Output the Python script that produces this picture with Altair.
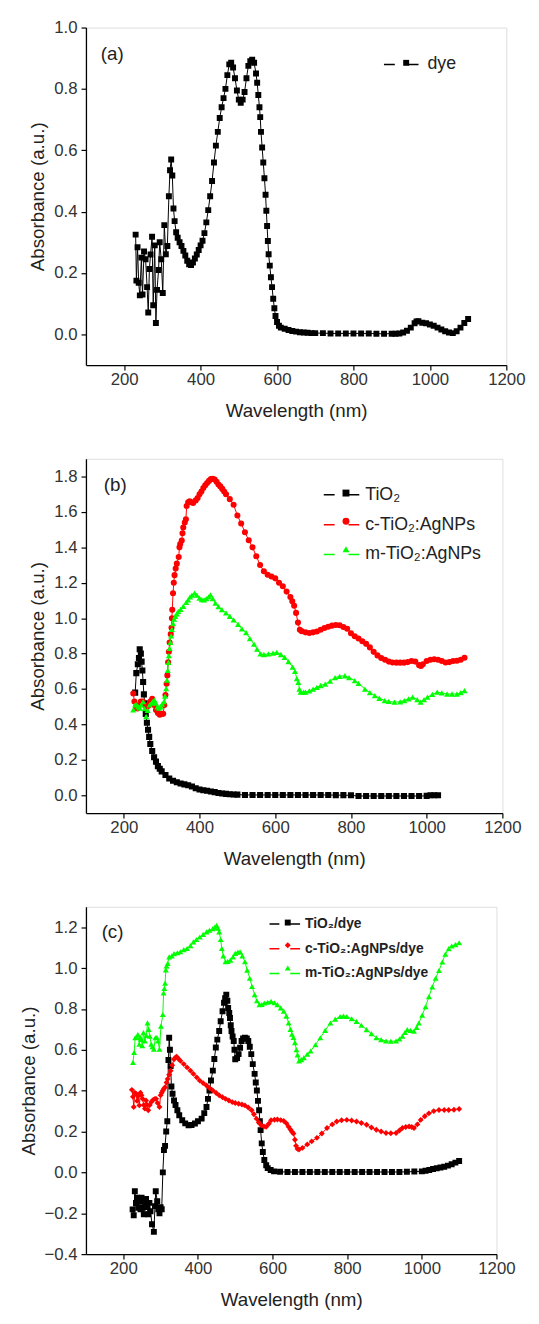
import altair as alt
import pandas as pd

F = "Liberation Sans"

# ---------------- panel (a): dye ----------------
a_wl = [230, 232, 235, 238, 241, 245, 248, 252, 256, 260, 263, 266, 269, 273, 276, 280, 283, 286, 290, 293,
        297, 301, 305, 309, 313, 317, 320, 323, 326, 329, 332, 336, 340, 345, 350, 355, 360, 365, 370, 375,
        380, 385, 390, 395, 400, 405, 410, 415, 420, 425, 430, 435, 440, 445, 450, 455, 460, 465, 470, 475,
        480, 485, 490, 495, 500, 505, 510, 515, 520, 525, 530, 535, 540, 545, 548, 551, 554, 556, 558, 561,
        564, 567, 570, 572, 574, 576, 578, 581, 584, 587, 590, 593, 596, 600, 605, 610, 620, 630, 640, 650,
        660, 670, 680, 690, 700, 720, 740, 760, 780, 800, 820, 840, 860, 880, 900, 910, 920, 930, 940, 950,
        960, 965, 970, 980, 990, 1000, 1010, 1020, 1030, 1040, 1050, 1060, 1070, 1080, 1090, 1100]
a_dye = [0.325, 0.175, 0.284, 0.168, 0.127, 0.25, 0.13, 0.27, 0.245, 0.154, 0.071, 0.213, 0.26, 0.318, 0.095, 0.29, 0.037, 0.145, 0.21, 0.30,
         0.245, 0.135, 0.356, 0.261, 0.288, 0.45, 0.535, 0.57, 0.518, 0.41, 0.369, 0.333, 0.315, 0.30, 0.288, 0.272, 0.257, 0.24, 0.228, 0.226,
         0.234, 0.247, 0.26, 0.275, 0.29, 0.305, 0.33, 0.365, 0.405, 0.45, 0.50, 0.56, 0.615, 0.66, 0.705, 0.74, 0.77, 0.80, 0.845, 0.88,
         0.885, 0.87, 0.835, 0.795, 0.765, 0.755, 0.765, 0.79, 0.835, 0.875, 0.89, 0.895, 0.885, 0.85, 0.82, 0.78, 0.74, 0.708, 0.66, 0.609,
         0.56, 0.509, 0.455, 0.403, 0.353, 0.304, 0.261, 0.224, 0.186, 0.154, 0.116, 0.085, 0.06, 0.04, 0.028, 0.022, 0.018, 0.014, 0.011, 0.009,
         0.007, 0.006, 0.005, 0.004, 0.004, 0.004, 0.003, 0.003, 0.003, 0.003, 0.003, 0.003, 0.002, 0.002, 0.002, 0.002, 0.003, 0.006, 0.012, 0.022,
         0.036, 0.042, 0.043, 0.038, 0.036, 0.032, 0.028, 0.022, 0.016, 0.010, 0.006, 0.004, 0.010, 0.022, 0.037, 0.050]

# ---------------- panel (b) ----------------
b_tio2_wl = [230, 233, 237, 240, 242, 245, 247, 249, 251, 253, 255, 258, 261, 264, 267, 270, 275, 280, 285, 290,
             295, 300, 310, 320, 330, 340, 350, 360, 370, 380, 390, 400, 410, 420, 430, 440, 450, 460, 470, 480,
             490, 500, 520, 540, 560, 580, 600, 620, 640, 660, 680, 700, 720, 740, 760, 780, 800, 820, 840, 860,
             880, 900, 920, 940, 960, 980, 1000, 1010, 1020, 1030]
b_tio2 = [0.58, 0.69, 0.74, 0.775, 0.825, 0.80, 0.755, 0.705, 0.64, 0.57, 0.52, 0.46, 0.41, 0.37, 0.33, 0.29, 0.25, 0.215, 0.19, 0.165,
          0.15, 0.135, 0.115, 0.095, 0.082, 0.074, 0.067, 0.062, 0.057, 0.05, 0.04, 0.033, 0.029, 0.026, 0.022, 0.018, 0.013, 0.010, 0.008, 0.006,
          0.005, 0.004, 0.002, 0.002, 0.002, 0.002, 0.002, 0.002, 0.002, 0.002, 0.002, 0.002, 0.002, 0.002, 0.001, 0.001, 0.0, -0.004, -0.004, -0.004,
          -0.004, -0.004, -0.004, -0.004, -0.004, -0.004, -0.003, 0.0, 0.0, 0.0]

b_c_wl = [225, 228, 232, 236, 240, 245, 250, 255, 260, 265, 270, 275, 280, 285, 290, 295, 300, 304, 307, 310,
          313, 315, 317, 319, 321, 324, 326, 327, 328, 330, 332, 334, 337, 340, 345, 347, 349, 353, 355, 357,
          361, 364, 366, 370, 374, 378, 383, 390, 395, 400, 405, 410, 415, 420, 425, 430, 435, 440, 445, 450,
          455, 460, 465, 470, 480, 490, 500, 510, 520, 530, 540, 550, 560, 570, 580, 590, 600, 610, 620, 630,
          640, 645, 650, 655, 660, 665, 670, 680, 690, 700, 710, 720, 730, 740, 750, 760, 770, 780, 790, 800,
          810, 820, 830, 840, 850, 860, 870, 880, 890, 900, 910, 920, 930, 940, 950, 960, 970, 980, 985, 990,
          1000, 1010, 1020, 1030, 1040, 1050, 1060, 1070, 1080, 1090, 1100]
b_c = [0.575, 0.53, 0.50, 0.49, 0.51, 0.53, 0.53, 0.51, 0.50, 0.505, 0.53, 0.545, 0.51, 0.482, 0.465, 0.455, 0.46, 0.46, 0.51, 0.566,
       0.63, 0.677, 0.751, 0.81, 0.863, 0.91, 0.946, 1.0, 1.048, 1.141, 1.2, 1.243, 1.28, 1.308, 1.345, 1.40, 1.419, 1.438, 1.48, 1.512,
       1.54, 1.558, 1.633, 1.655, 1.66, 1.655, 1.651, 1.665, 1.679, 1.70, 1.715, 1.735, 1.75, 1.763, 1.775, 1.785, 1.787, 1.783, 1.77, 1.755,
       1.744, 1.73, 1.715, 1.70, 1.672, 1.64, 1.58, 1.535, 1.485, 1.44, 1.40, 1.35, 1.30, 1.265, 1.245, 1.235, 1.225, 1.20, 1.18, 1.15,
       1.12, 1.095, 1.07, 1.03, 0.975, 0.935, 0.926, 0.92, 0.916, 0.92, 0.925, 0.935, 0.945, 0.952, 0.958, 0.962, 0.96, 0.95, 0.94, 0.915,
       0.898, 0.885, 0.87, 0.855, 0.835, 0.81, 0.79, 0.775, 0.765, 0.755, 0.75, 0.749, 0.749, 0.749, 0.752, 0.758, 0.755, 0.735, 0.73, 0.74,
       0.758, 0.765, 0.768, 0.765, 0.758, 0.75, 0.752, 0.758, 0.76, 0.765, 0.777]

b_m_wl = [225, 230, 234, 238, 242, 246, 251, 255, 259, 263, 268, 273, 277, 281, 285, 289, 293, 297, 301, 306,
          309, 312, 314, 316, 318, 319, 321, 323, 325, 327, 330, 333, 336, 340, 344, 350, 357, 365, 370, 375,
          380, 387, 393, 400, 406, 412, 418, 424, 429, 435, 442, 450, 459, 470, 480, 490, 502, 512, 523, 533,
          544, 552, 561, 570, 582, 594, 604, 615, 625, 635, 646, 652, 657, 661, 664, 667, 675, 680, 690, 700,
          710, 720, 732, 745, 758, 770, 784, 795, 810, 820, 837, 850, 863, 875, 889, 900, 915, 930, 941, 952,
          963, 975, 984, 993, 1002, 1015, 1028, 1040, 1054, 1067, 1080, 1090, 1100]
b_m = [0.482, 0.51, 0.51, 0.50, 0.492, 0.51, 0.529, 0.49, 0.445, 0.48, 0.51, 0.52, 0.53, 0.538, 0.52, 0.50, 0.492, 0.50, 0.515, 0.529,
       0.56, 0.603, 0.65, 0.705, 0.75, 0.789, 0.83, 0.863, 0.90, 0.937, 0.97, 0.995, 1.011, 1.025, 1.039, 1.05, 1.067, 1.09, 1.104, 1.12,
       1.13, 1.141, 1.13, 1.113, 1.105, 1.104, 1.11, 1.12, 1.132, 1.11, 1.085, 1.065, 1.048, 1.03, 1.011, 0.99, 0.965, 0.94, 0.918, 0.885,
       0.853, 0.825, 0.798, 0.795, 0.798, 0.803, 0.807, 0.795, 0.779, 0.755, 0.724, 0.70, 0.659, 0.638, 0.60, 0.582, 0.582, 0.582, 0.59, 0.60,
       0.61, 0.62, 0.628, 0.645, 0.665, 0.672, 0.675, 0.665, 0.647, 0.632, 0.60, 0.58, 0.563, 0.548, 0.535, 0.53, 0.526, 0.528, 0.535, 0.545,
       0.554, 0.54, 0.526, 0.54, 0.554, 0.57, 0.582, 0.578, 0.572, 0.572, 0.572, 0.58, 0.591]

# ---------------- panel (c) ----------------
c_t_wl = [225, 228, 231, 234, 237, 240, 243, 246, 249, 252, 255, 258, 261, 264, 267, 270, 273, 277, 282, 285,
          287, 291, 294, 297, 300, 303, 306, 309, 312, 315, 318, 321, 323, 325, 327, 329, 332, 336, 340, 345,
          350, 358, 366, 375, 383, 392, 400, 410, 417, 423, 427, 431, 435, 440, 444, 448, 452, 457, 461, 466,
          470, 473, 476, 479, 481, 484, 486, 488, 490, 493, 496, 498, 500, 505, 509, 513, 517, 521, 526, 531,
          535, 539, 543, 547, 552, 555, 558, 561, 564, 566, 568, 571, 574, 578, 583, 587, 595, 604, 620, 640,
          660, 680, 700, 720, 740, 760, 780, 800, 820, 840, 860, 880, 900, 920, 940, 960, 980, 1000, 1010, 1020,
          1030, 1040, 1050, 1060, 1070, 1080, 1090, 1100]
c_t = [-0.181, -0.21, -0.092, -0.15, -0.124, -0.173, -0.141, -0.181, -0.124, -0.173, -0.205, -0.149, -0.13, -0.17, -0.205, -0.149, -0.19, -0.254, -0.291, -0.165,
       -0.092, -0.141, -0.181, -0.20, -0.17, -0.18, 0.0, 0.11, 0.13, 0.20, 0.25, 0.55, 0.659, 0.60, 0.52, 0.42, 0.385, 0.352, 0.33, 0.304,
       0.28, 0.255, 0.24, 0.231, 0.232, 0.239, 0.25, 0.263, 0.29, 0.32, 0.36, 0.401, 0.45, 0.498, 0.555, 0.611, 0.65, 0.692, 0.74, 0.789,
       0.83, 0.853, 0.87, 0.84, 0.805, 0.78, 0.756, 0.72, 0.692, 0.665, 0.643, 0.60, 0.554, 0.56, 0.579, 0.61, 0.643, 0.655, 0.659, 0.655,
       0.643, 0.615, 0.579, 0.53, 0.482, 0.44, 0.401, 0.35, 0.304, 0.25, 0.207, 0.142, 0.10, 0.061, 0.035, 0.021, 0.012, 0.005, 0.003, 0.002,
       0.002, 0.002, 0.002, 0.002, 0.002, 0.002, 0.002, 0.002, 0.002, 0.002, 0.002, 0.002, 0.002, 0.002, 0.002, 0.003, 0.004, 0.005, 0.008, 0.012,
       0.017, 0.02, 0.024, 0.028, 0.033, 0.04, 0.048, 0.056]

c_c_wl = [223, 226, 228, 231, 234, 237, 240, 243, 246, 249, 252, 255, 258, 261, 264, 267, 271, 275, 280, 285,
          288, 292, 297, 300, 303, 306, 309, 312, 316, 319, 323, 327, 331, 336, 340, 343, 348, 353, 362, 371,
          380, 388, 397, 405, 414, 423, 431, 440, 449, 457, 466, 474, 483, 492, 500, 509, 518, 526, 535, 544,
          550, 557, 563, 570, 577, 583, 590, 596, 605, 613, 622, 630, 637, 643, 648, 652, 656, 660, 663, 667,
          671, 680, 693, 705, 719, 732, 746, 760, 772, 785, 799, 812, 825, 838, 852, 865, 878, 891, 904, 917,
          931, 940, 948, 957, 966, 973, 979, 988, 997, 1008, 1019, 1032, 1046, 1060, 1072, 1086, 1100]
c_c = [0.404, 0.37, 0.32, 0.39, 0.385, 0.35, 0.375, 0.328, 0.39, 0.377, 0.36, 0.33, 0.312, 0.352, 0.33, 0.304, 0.33, 0.344, 0.355, 0.36,
       0.36, 0.34, 0.32, 0.377, 0.39, 0.401, 0.41, 0.417, 0.44, 0.457, 0.478, 0.498, 0.525, 0.554, 0.562, 0.566, 0.556, 0.546, 0.53, 0.514,
       0.498, 0.482, 0.465, 0.449, 0.437, 0.425, 0.413, 0.401, 0.389, 0.377, 0.368, 0.36, 0.352, 0.344, 0.34, 0.336, 0.332, 0.328, 0.318, 0.304,
       0.285, 0.263, 0.245, 0.231, 0.225, 0.223, 0.238, 0.255, 0.258, 0.259, 0.256, 0.252, 0.24, 0.223, 0.21, 0.199, 0.19, 0.16, 0.13, 0.115,
       0.112, 0.12, 0.137, 0.152, 0.169, 0.19, 0.217, 0.235, 0.249, 0.255, 0.257, 0.254, 0.249, 0.242, 0.233, 0.22, 0.209, 0.20, 0.193, 0.192,
       0.193, 0.205, 0.217, 0.222, 0.225, 0.222, 0.217, 0.235, 0.257, 0.275, 0.289, 0.30, 0.305, 0.305, 0.305, 0.307, 0.31]

c_m_wl = [226, 229, 232, 235, 239, 243, 246, 248, 251, 254, 258, 262, 265, 268, 271, 275, 278, 282, 286, 290,
          293, 297, 301, 306, 308, 310, 312, 314, 316, 319, 323, 330, 336, 345, 353, 362, 371, 380, 388, 396,
          405, 414, 423, 431, 440, 445, 450, 454, 457, 461, 464, 468, 474, 480, 487, 494, 500, 507, 513, 519,
          526, 532, 539, 545, 552, 558, 565, 571, 578, 587, 596, 605, 613, 622, 630, 637, 643, 648, 652, 656,
          660, 664, 667, 671, 677, 684, 693, 702, 715, 728, 741, 755, 768, 781, 790, 799, 812, 825, 838, 852,
          865, 878, 891, 904, 917, 931, 940, 948, 955, 961, 970, 979, 986, 992, 1001, 1010, 1019, 1028, 1037, 1046,
          1055, 1063, 1072, 1080, 1090, 1100]
c_m = [0.538, 0.587, 0.659, 0.66, 0.675, 0.627, 0.66, 0.651, 0.62, 0.684, 0.643, 0.67, 0.732, 0.70, 0.667, 0.627, 0.615, 0.603, 0.659, 0.66,
       0.643, 0.603, 0.716, 0.773, 0.878, 0.90, 0.926, 0.991, 1.01, 1.023, 1.055, 1.06, 1.071, 1.075, 1.08, 1.09, 1.096, 1.11, 1.128, 1.14,
       1.152, 1.165, 1.177, 1.185, 1.193, 1.20, 1.209, 1.195, 1.177, 1.14, 1.096, 1.06, 1.031, 1.033, 1.039, 1.055, 1.072, 1.078, 1.08, 1.06,
       1.031, 0.99, 0.95, 0.91, 0.87, 0.84, 0.821, 0.822, 0.829, 0.833, 0.837, 0.83, 0.821, 0.805, 0.789, 0.765, 0.732, 0.70, 0.676, 0.66,
       0.635, 0.60, 0.575, 0.546, 0.552, 0.562, 0.578, 0.594, 0.625, 0.659, 0.695, 0.731, 0.75, 0.763, 0.765, 0.763, 0.752, 0.739, 0.72, 0.699,
       0.679, 0.659, 0.65, 0.643, 0.642, 0.643, 0.653, 0.667, 0.685, 0.699, 0.695, 0.691, 0.71, 0.731, 0.77, 0.811, 0.86, 0.908, 0.95, 0.988,
       1.03, 1.068, 1.095, 1.108, 1.115, 1.124]

x_ticks = [200, 400, 600, 800, 1000, 1200]


def frame(series):
    rows = []
    for name, wl, vals in series:
        for w, v in zip(wl, vals):
            rows.append({"wl": w, "ab": v, "s": name})
    return pd.DataFrame(rows)


def yticks(lo, hi):
    n0 = int(round(lo * 10))
    n1 = int(round(hi * 10))
    return [round(k / 10, 1) for k in range(n0, n1 + 1) if k % 2 == 0]


def panel(series, colors, shapes, msize, ydom, w, h, letter, letter_pos, leg):
    names = [s[0] for s in series]
    df = frame(series)
    xs = alt.Scale(domain=[100, 1200], nice=False, zero=False)
    ys = alt.Scale(domain=ydom, nice=False, zero=False)
    xaxis = alt.Axis(values=x_ticks, format="d",
                     title="Wavelength (nm)", grid=False, tickSize=5, tickWidth=1.2,
                     tickColor="black", domainColor="black", domainWidth=1.3,
                     labelFont=F, labelFontSize=17, labelColor="#333333", labelPadding=2,
                     labelFlush=False,
                     titleFont=F, titleFontSize=19, titleFontWeight="normal",
                     titleColor="#222222", titlePadding=14)
    yaxis = alt.Axis(values=yticks(ydom[0], ydom[1]), format=".1f",
                     title="Absorbance (a.u.)", grid=False, tickSize=5, tickWidth=1.2,
                     tickColor="black", domainColor="black", domainWidth=1.3,
                     labelFont=F, labelFontSize=17, labelColor="#333333", labelPadding=4,
                     titleFont=F, titleFontSize=19, titleFontWeight="normal",
                     titleColor="#222222", titlePadding=6)
    s, m, lh, d, c0 = leg["len"], leg["msz"], leg["lh"], leg["d"], leg["c0"]
    common = dict(title=None, orient="none",
                  labelFont=F, labelFontSize=leg["fs"], labelFontWeight=leg["fw"],
                  labelColor="#222222", labelLimit=300, symbolOpacity=1)
    # line part of the legend key (two dashes)
    line_leg = alt.Legend(legendX=leg["x"], legendY=c0 - s / 2 - 1.5,
                          rowPadding=max(0.0, d - (s / 2 + lh / 2)),
                          symbolType="stroke", symbolSize=s ** 2,
                          symbolStrokeWidth=1.5, symbolDash=leg["dash"], labelOffset=leg["off"],
                          **common)
    # marker part of the legend key, drawn in the gap between the dashes; its labels are hidden
    mark_leg = alt.Legend(legendX=leg["x"] + s / 2 - m / 2, legendY=c0 - lh / 2 - 1.5,
                          rowPadding=d - lh, symbolSize=m ** 2,
                          symbolStrokeWidth=0, labelOpacity=0, labelOffset=leg["off"], **common)
    xenc = alt.X("wl:Q", scale=xs, axis=xaxis)
    yenc = alt.Y("ab:Q", scale=ys, axis=yaxis)
    base = alt.Chart(df).encode(x=xenc, y=yenc)
    line = base.mark_line(strokeWidth=1, clip=True).encode(
        color=alt.Color("s:N", scale=alt.Scale(range=colors), legend=line_leg))
    pts = base.mark_point(filled=True, opacity=1, size=msize, clip=True).encode(
        fill=alt.Fill("s:N", scale=alt.Scale(domain=names, range=colors), legend=mark_leg),
        shape=alt.Shape("s:N", scale=alt.Scale(domain=names, range=shapes), legend=mark_leg),
    )
    lab = alt.Chart(pd.DataFrame({"wl": [letter_pos[0]], "ab": [letter_pos[1]], "t": [letter]})).mark_text(
        align="left", baseline="middle", font=F, fontSize=19, color="#222222"
    ).encode(x=xenc, y=yenc, text="t:N")
    return alt.layer(line, pts, lab).properties(width=w, height=h)


pa = panel([("dye", a_wl, a_dye)], ["#000000"], ["square"], 36,
           [-0.1, 1.0], 426, 342, "(a)", (139, 0.915),
           {"x": 301, "c0": 38, "d": 30, "len": 35, "msz": 6, "lh": 19.5, "dash": [11, 13],
            "fs": 18, "fw": "normal", "off": 8})

pb = panel([("TiO\u2082", b_tio2_wl, b_tio2),
            ("c-TiO\u2082:AgNPs", b_c_wl, b_c),
            ("m-TiO\u2082:AgNPs", b_m_wl, b_m)],
           ["#000000", "#ff0000", "#00ff00"], ["square", "circle", "triangle-up"], 38,
           [-0.1, 1.9], 422, 359, "(b)", (147, 1.75),
           {"x": 240, "c0": 37, "d": 30, "len": 36, "msz": 7, "lh": 19.5, "dash": [11, 14],
            "fs": 18, "fw": "normal", "off": 5})

pc = panel([("TiO\u2082/dye", c_t_wl, c_t),
            ("c-TiO\u2082:AgNPs/dye", c_c_wl, c_c),
            ("m-TiO\u2082:AgNPs/dye", c_m_wl, c_m)],
           ["#000000", "#ff0000", "#00ff00"], ["square", "diamond", "triangle-up"], 36,
           [-0.4, 1.3], 416, 352, "(c)", (142, 1.176),
           {"x": 185, "c0": 18, "d": 24, "len": 31, "msz": 6, "lh": 15, "dash": [10, 11],
            "fs": 14, "fw": "bold", "off": 4})

chart = alt.vconcat(pa, pb, pc, spacing=37).resolve_scale(
    color="independent", fill="independent", shape="independent"
).resolve_legend(
    color="independent", fill="independent", shape="independent"
).properties(
    padding={"left": 10, "top": 1, "right": 5, "bottom": 5}
).configure_view(stroke="black", strokeWidth=1.3).configure(background="white")

chart.save("out.html", embed_options={"renderer": "svg", "actions": False})
